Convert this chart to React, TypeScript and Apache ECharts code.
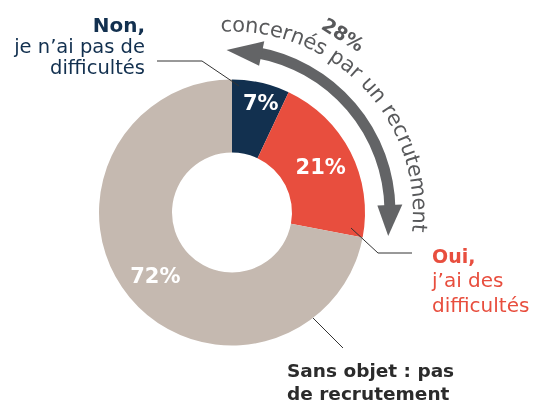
import React, { useEffect, useRef } from 'react';
import * as echarts from 'echarts';

const categories = ['Non', 'Oui', 'Sans objet'];
const values = [7, 21, 72];
const sliceColors = ['#12304F', '#E84E3E', '#C5B9B0'];
const nonLines = ['Non,', 'je n\u2019ai pas de', 'difficultés'];
const ouiLines = ['Oui,', 'j\u2019ai des', 'difficultés'];
const sansLines = ['Sans objet : pas', 'de recrutement'];
const arcLabel = 'concernés par un recrutement';
const arcValue = '28%';

export default function App() {
  const ref = useRef<HTMLDivElement>(null);
  useEffect(() => {
    const chart = echarts.init(ref.current!, null, { renderer: 'svg' });
    const FONT = '"DejaVu Sans", sans-serif';
    const cx = 232, cy = 212.5;
    const ax = 228, ay = 212, ar = 162;
    const rad = (d: number) => (d * Math.PI) / 180;
    const pt = (ox: number, oy: number, r: number, deg: number) => [ox + r * Math.sin(rad(deg)), oy - r * Math.cos(rad(deg))];

    const g: any[] = [];
    // leader lines
    const lineStyle = { stroke: '#333', lineWidth: 1, fill: null };
    g.push({ type: 'polyline', shape: { points: [[157, 61], [202, 61], [239, 86]] }, style: lineStyle, z: 10 });
    g.push({ type: 'polyline', shape: { points: [[351, 228], [378, 253], [412, 253]] }, style: lineStyle, z: 10 });
    g.push({ type: 'polyline', shape: { points: [[313, 318], [343, 348]] }, style: lineStyle, z: 10 });

    // side labels
    const nonY = [24.5, 46, 67.5];
    nonLines.forEach((t, i) => g.push({ type: 'text', x: 145, y: nonY[i], style: { text: t, align: 'right', verticalAlign: 'middle', fill: '#12304F', font: `${i === 0 ? 'bold 20px' : '19.5px'} ${FONT}` } }));
    const ouiY = [256, 280, 305];
    ouiLines.forEach((t, i) => g.push({ type: 'text', x: 432, y: ouiY[i], style: { text: t, align: 'left', verticalAlign: 'middle', fill: '#E84E3E', font: `${i === 0 ? 'bold 19px' : '20px'} ${FONT}` } }));
    const sansY = [370.6, 393.6];
    sansLines.forEach((t, i) => g.push({ type: 'text', x: 287, y: sansY[i], style: { text: t, align: 'left', verticalAlign: 'middle', fill: '#2B2B2B', font: `bold 18.5px ${FONT}` } }));

    // curved double arrow
    const arrowColor = '#636466';
    g.push({ type: 'arc', shape: { cx: ax, cy: ay, r: ar, startAngle: rad(10 - 90), endAngle: rad(89 - 90), clockwise: true }, style: { stroke: arrowColor, lineWidth: 11, fill: null } });
    g.push({ type: 'polygon', shape: { points: [pt(ax, ay, ar, -0.5), pt(ax, ay, ar + 12.5, 12), pt(ax, ay, ar - 12.5, 12)] }, style: { fill: arrowColor } });
    g.push({ type: 'polygon', shape: { points: [pt(ax, ay, ar, 98.5), pt(ax, ay, ar + 12.5, 87.5), pt(ax, ay, ar - 12.5, 87.5)] }, style: { fill: arrowColor } });

    // text along arc
    const ctx = document.createElement('canvas').getContext('2d')!;
    const fs = 21;
    ctx.font = `${fs}px ${FONT}`;
    const chars = Array.from(arcLabel);
    const widths = chars.map((c) => ctx.measureText(c).width);
    const total = widths.reduce((a, b) => a + b, 0);
    const rText = 188;
    const a0 = -3.5, a1 = 96;
    const span = rad(a1 - a0) * rText;
    const extra = (span - total) / (chars.length - 1);
    let s = 0;
    chars.forEach((c, i) => {
      const mid = s + widths[i] / 2;
      const deg = a0 + (mid / rText) * 180 / Math.PI;
      const p = pt(cx, cy, rText, deg);
      g.push({ type: 'text', x: p[0], y: p[1], rotation: -rad(deg), style: { text: c, align: 'center', verticalAlign: 'middle', fill: '#58595B', font: `${fs}px ${FONT}` } });
      s += widths[i] + extra;
    });
    const p28 = pt(cx, cy, 210, 32);
    g.push({ type: 'text', x: p28[0], y: p28[1], rotation: -rad(32), style: { text: arcValue, align: 'center', verticalAlign: 'middle', fill: '#58595B', font: `bold 19px ${FONT}` } });

    chart.setOption({
      animation: false,
      series: [
        {
          type: 'pie',
          center: [cx, cy],
          radius: [60, 133],
          startAngle: 90,
          clockwise: true,
          silent: true,
          data: categories.map((n, i) => ({ name: n, value: values[i], itemStyle: { color: sliceColors[i] } })),
          label: { show: true, position: 'inside', formatter: '{c}%', color: '#fff', fontSize: 21, fontWeight: 'bold', fontFamily: FONT },
          labelLine: { show: false },
          labelLayout: (p: any) => (p.dataIndex === 0 ? { dx: 7, dy: -12 } : {}),
          emphasis: { disabled: true },
        },
      ],
      graphic: g,
    });
    return () => chart.dispose();
  }, []);
  return <div ref={ref} style={{ position: 'fixed', left: 0, top: 0, width: 536, height: 403 }} />;
}
